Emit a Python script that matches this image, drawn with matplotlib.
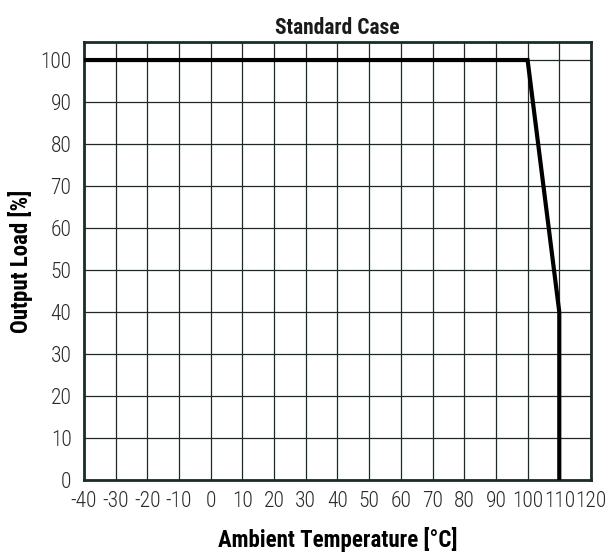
import matplotlib
matplotlib.use("Agg")
import matplotlib.pyplot as plt

# derating curve
temp = [-40, 100, 110, 110]
load = [100, 100, 40, 0]

xticks = list(range(-40, 121, 10))
yticks = list(range(0, 101, 10))

plt.rcParams['font.family'] = ['Roboto Condensed', 'Roboto', 'DejaVu Sans']
plt.rcParams['axes.unicode_minus'] = False

fig = plt.figure(figsize=(6.06, 5.56), dpi=100)
ax = fig.add_axes([0.1386, 0.1367, 0.8366, 0.7878])

ax.plot(temp, load, color="black", linewidth=3, solid_joinstyle="miter", zorder=3)

ax.set_xlim(-40, 120)
ax.set_ylim(0, 104.3)
ax.set_xticks(xticks)
ax.set_yticks(yticks)
ax.grid(True, color="#1e2a2a", linewidth=0.9)
ax.tick_params(length=0, labelsize=15.5, colors="#2a2a2a")
ax.tick_params(axis="x", pad=8)
ax.tick_params(axis="y", pad=9)
for lab in ax.get_xticklabels() + ax.get_yticklabels():
    lab.set_fontweight("light")
for s in ax.spines.values():
    s.set_linewidth(2)
    s.set_color("#1c2b2b")

ax.set_title("Standard Case", fontsize=15.5, fontweight="bold", pad=6, color="#1a1a1a")
ax.set_xlabel("Ambient Temperature [°C]", fontsize=16.5, fontweight="bold", labelpad=11)
ax.set_ylabel("Output Load [%]", fontsize=16.5, fontweight="bold", labelpad=5)

plt.savefig("out.png", dpi=100)
